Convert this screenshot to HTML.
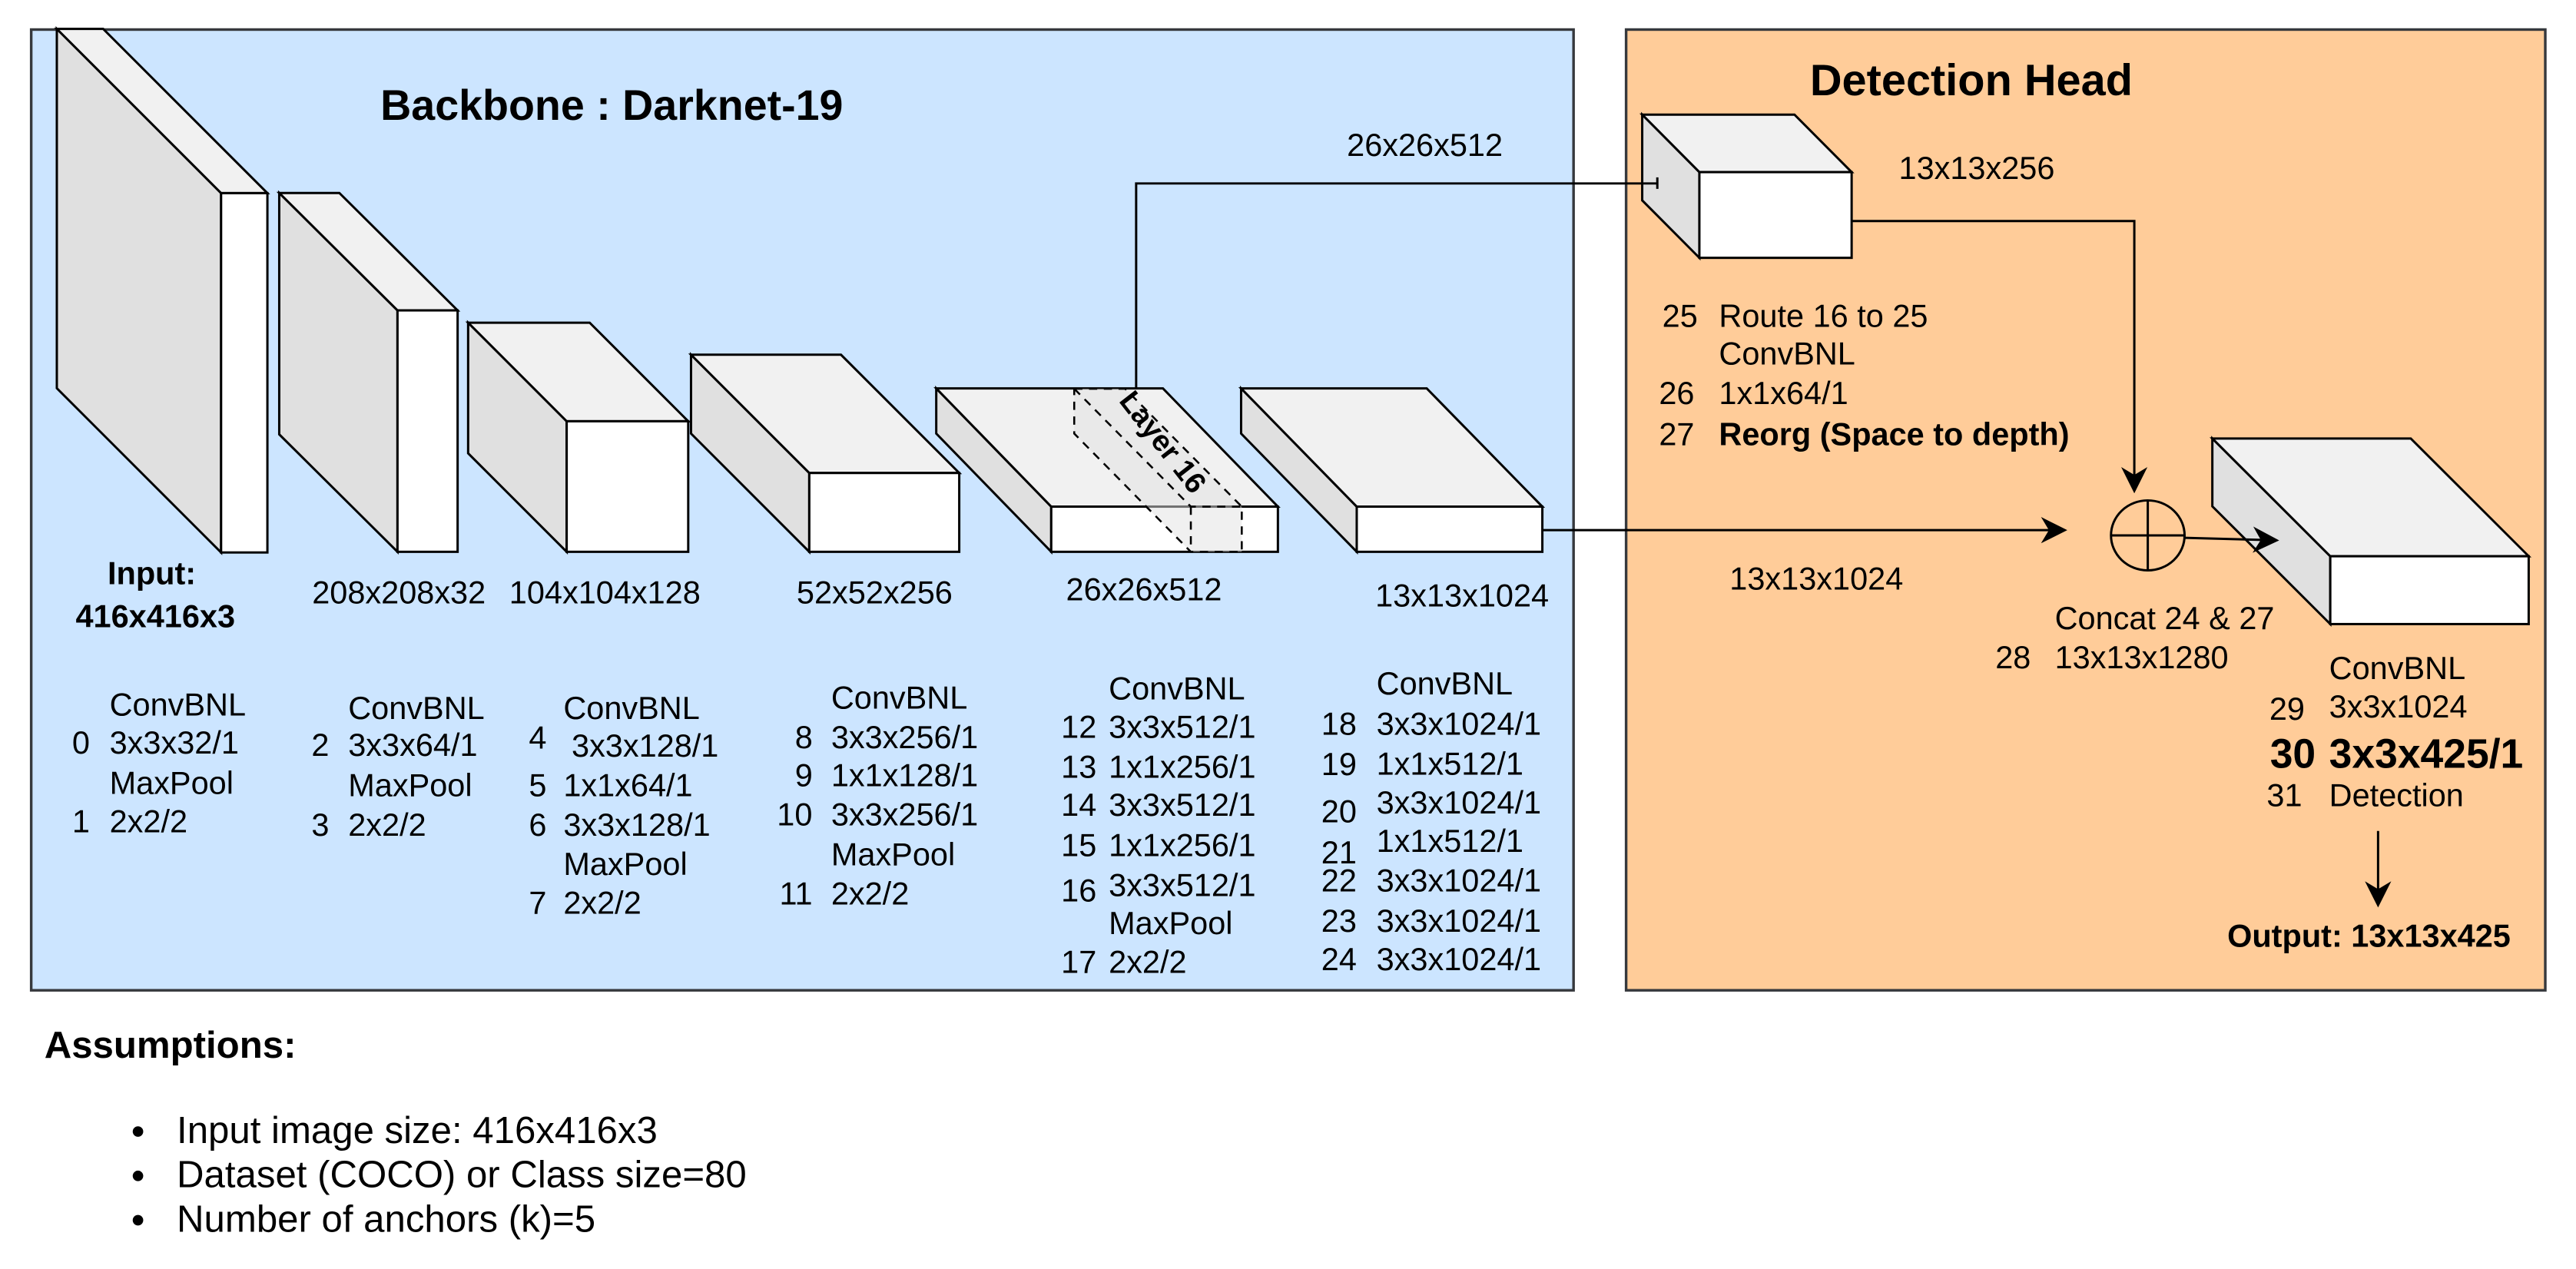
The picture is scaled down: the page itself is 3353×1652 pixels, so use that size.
<!DOCTYPE html>
<html><head><meta charset="utf-8"><style>
html,body{margin:0;padding:0;background:#fff;}
svg{display:block;}
text{font-family:"Liberation Sans",Arial,sans-serif;fill:#000;}
</style></head><body>
<svg width="3353" height="1652" viewBox="0 0 1568.3 772.7" preserveAspectRatio="none" xmlns="http://www.w3.org/2000/svg">
<defs>
<marker id="ah" viewBox="0 0 10 10" refX="9" refY="5" markerWidth="7" markerHeight="7" orient="auto" markerUnits="userSpaceOnUse">
<path d="M0,0 L10,5 L0,10 L3,5 z" fill="#000"/>
</marker>
<marker id="ah2" viewBox="0 0 10 10" refX="9" refY="5" markerWidth="16" markerHeight="16" orient="auto" markerUnits="userSpaceOnUse">
<path d="M0,0 L10,5 L0,10 L3,5 z" fill="#000"/>
</marker>
</defs>
<rect x="19" y="18" width="939" height="585" fill="#cce5ff" stroke="#36393d" stroke-width="1.6"/>
<rect x="990" y="18" width="559.6" height="585" fill="#ffcc99" stroke="#36393d" stroke-width="1.6"/>

<g stroke="#000" stroke-width="1.4" stroke-linejoin="miter">
<!-- cube1 -->
<polygon points="34.6,17.6 134.6,117.6 134.6,336.4 34.6,236.4" fill="#e0e0e0"/>
<polygon points="34.6,17.6 62.8,17.6 162.8,117.6 134.6,117.6" fill="#f1f1f1"/>
<rect x="134.6" y="117.6" width="28.2" height="218.8" fill="#fff"/>
<!-- cube2 -->
<polygon points="170,117.5 242,189 242,336 170,264.5" fill="#e0e0e0"/>
<polygon points="170,117.5 206.6,117.5 278.6,189 242,189" fill="#f1f1f1"/>
<rect x="242" y="189" width="36.6" height="147" fill="#fff"/>
<!-- cube3 -->
<polygon points="285,196.5 345,256.5 345,336 285,276" fill="#e0e0e0"/>
<polygon points="285,196.5 359,196.5 419,256.5 345,256.5" fill="#f1f1f1"/>
<rect x="345" y="256.5" width="74" height="79.5" fill="#fff"/>
<!-- cube4 -->
<polygon points="420.7,216 492.7,288 492.7,336 420.7,264" fill="#e0e0e0"/>
<polygon points="420.7,216 512,216 584,288 492.7,288" fill="#f1f1f1"/>
<rect x="492.7" y="288" width="91.3" height="48" fill="#fff"/>
<!-- cube5 -->
<polygon points="570,236.5 640,308.5 640,336 570,264" fill="#e0e0e0"/>
<polygon points="570,236.5 708,236.5 778,308.5 640,308.5" fill="#f1f1f1"/>
<rect x="640" y="308.5" width="138" height="27.5" fill="#fff"/>
<!-- cube6 -->
<polygon points="755.6,236.5 826,308.5 826,336 755.6,264" fill="#e0e0e0"/>
<polygon points="755.6,236.5 868.6,236.5 939,308.5 826,308.5" fill="#f1f1f1"/>
<rect x="826" y="308.5" width="113" height="27.5" fill="#fff"/>
<!-- small det cube -->
<polygon points="999.8,69.8 1034.6,104.8 1034.6,157 999.8,122" fill="#e0e0e0"/>
<polygon points="999.8,69.8 1092.5,69.8 1127.3,104.8 1034.6,104.8" fill="#f1f1f1"/>
<rect x="1034.6" y="104.8" width="92.7" height="52.2" fill="#fff"/>
<!-- big det cube -->
<polygon points="1346.9,267 1418.7,338.7 1418.7,380 1346.9,308.3" fill="#e0e0e0"/>
<polygon points="1346.9,267 1467.7,267 1539.5,338.7 1418.7,338.7" fill="#f1f1f1"/>
<rect x="1418.7" y="338.7" width="120.8" height="41.3" fill="#fff"/>
</g>

<!-- layer 16 dashed -->
<g stroke="#000" stroke-width="1.2" stroke-dasharray="5,4" fill="none">
<polygon points="654,236.7 685,236.7 756,308.5 756,336 725,336 654,264" fill="rgba(225,225,225,0.5)"/>
<polyline points="654,236.7 725,308.5 756,308.5"/>
<line x1="725" y1="308.5" x2="725" y2="336"/>
</g>
<text x="0" y="0" font-size="18" font-weight="bold" transform="translate(707,270) rotate(52)" text-anchor="middle" dominant-baseline="middle">Layer 16</text>

<!-- connectors -->
<g stroke="#000" stroke-width="1.4" fill="none">
<polyline points="691.7,236.7 691.7,111.7 1009,111.7"/>
<line x1="1009" y1="108" x2="1009" y2="115"/>
<polyline points="1127.3,134.6 1299.4,134.6 1299.4,298.8" marker-end="url(#ah2)"/>
<line x1="939" y1="322.8" x2="1257" y2="322.8" marker-end="url(#ah2)"/>
<ellipse cx="1307.6" cy="326" rx="22.4" ry="21.3" fill="none"/>
<line x1="1285.2" y1="326" x2="1330" y2="326"/>
<line x1="1307.6" y1="304.7" x2="1307.6" y2="347.3"/>
<line x1="1330" y1="327.5" x2="1386" y2="329" marker-end="url(#ah2)"/>
<line x1="1447.8" y1="506" x2="1447.8" y2="551" marker-end="url(#ah2)"/>
</g>

<!-- titles -->
<text x="231.6" y="73" font-size="26" font-weight="bold">Backbone : Darknet-19</text>
<text x="1101.9" y="58" font-size="27" font-weight="bold">Detection Head</text>

<g font-size="19.4">
<text x="820" y="95">26x26x512</text>
<text x="1156" y="109">13x13x256</text>
<text x="1053" y="359">13x13x1024</text>

<text x="190" y="367.4">208x208x32</text>
<text x="310" y="367.4">104x104x128</text>
<text x="485" y="367.4">52x52x256</text>
<text x="649" y="365.6">26x26x512</text>
<text x="837.3" y="369.2">13x13x1024</text>

<!-- col 0 -->
<text x="66.7" y="435.8">ConvBNL</text>
<text x="43.9" y="458.8">0</text><text x="66.7" y="458.8">3x3x32/1</text>
<text x="66.7" y="483.4">MaxPool</text>
<text x="43.9" y="506.7">1</text><text x="66.7" y="506.7">2x2/2</text>
<!-- col 2 -->
<text x="212" y="437.8">ConvBNL</text>
<text x="189.6" y="460.3">2</text><text x="212" y="460.3">3x3x64/1</text>
<text x="212" y="484.8">MaxPool</text>
<text x="189.6" y="508.8">3</text><text x="212" y="508.8">2x2/2</text>
<!-- col 4 -->
<text x="343" y="437.8">ConvBNL</text>
<text x="322" y="455.8">4</text><text x="348" y="460.8">3x3x128/1</text>
<text x="322" y="484.8">5</text><text x="343" y="484.8">1x1x64/1</text>
<text x="322" y="508.8">6</text><text x="343" y="508.8">3x3x128/1</text>
<text x="343" y="532.8">MaxPool</text>
<text x="322" y="556.3">7</text><text x="343" y="556.3">2x2/2</text>
<!-- col 8 -->
<text x="506" y="431.4">ConvBNL</text>
<text x="484" y="455.6">8</text><text x="506" y="455.6">3x3x256/1</text>
<text x="484" y="478.8">9</text><text x="506" y="478.8">1x1x128/1</text>
<text x="473" y="502.6">10</text><text x="506" y="502.6">3x3x256/1</text>
<text x="506" y="526.8">MaxPool</text>
<text x="474.5" y="550.8">11</text><text x="506" y="550.8">2x2/2</text>
<!-- col 12 -->
<text x="675" y="425.8">ConvBNL</text>
<text x="646" y="449.3">12</text><text x="675" y="449.3">3x3x512/1</text>
<text x="646" y="473.5">13</text><text x="675" y="473.5">1x1x256/1</text>
<text x="646" y="496.8">14</text><text x="675" y="496.8">3x3x512/1</text>
<text x="646" y="521.4">15</text><text x="675" y="521.4">1x1x256/1</text>
<text x="646" y="549">16</text><text x="675" y="545.7">3x3x512/1</text>
<text x="675" y="568.8">MaxPool</text>
<text x="646" y="592.4">17</text><text x="675" y="592.4">2x2/2</text>
<!-- col 18 -->
<text x="838" y="422.8">ConvBNL</text>
<text x="804.4" y="447.5">18</text><text x="838" y="447.5">3x3x1024/1</text>
<text x="804.4" y="472">19</text><text x="838" y="471.8">1x1x512/1</text>
<text x="804.4" y="500.8">20</text><text x="838" y="495.3">3x3x1024/1</text>
<text x="804.4" y="525.8">21</text><text x="838" y="518.7">1x1x512/1</text>
<text x="804.4" y="542.8">22</text><text x="838" y="542.8">3x3x1024/1</text>
<text x="804.4" y="567.4">23</text><text x="838" y="567.4">3x3x1024/1</text>
<text x="804.4" y="590.8">24</text><text x="838" y="590.8">3x3x1024/1</text>

<!-- det head text -->
<text x="1012" y="199">25</text><text x="1046.5" y="199">Route 16 to 25</text>
<text x="1046.5" y="222">ConvBNL</text>
<text x="1010" y="246">26</text><text x="1046.5" y="246">1x1x64/1</text>
<text x="1010" y="271">27</text><text x="1046.5" y="271" font-weight="bold">Reorg (Space to depth)</text>
<text x="1251" y="383">Concat 24 &amp; 27</text>
<text x="1214.8" y="407">28</text><text x="1251" y="407">13x13x1280</text>
<text x="1418" y="413.4">ConvBNL</text>
<text x="1381.6" y="438.3">29</text><text x="1418" y="436.8">3x3x1024</text>
<text x="1380" y="491">31</text><text x="1418" y="490.8">Detection</text>
<text x="1356" y="576.4" font-weight="bold">Output: 13x13x425</text>
</g>
<text x="1382" y="467.4" font-size="25" font-weight="bold">30</text>
<text x="1418" y="467.4" font-size="25" font-weight="bold">3x3x425/1</text>

<text x="92.4" y="355.8" font-size="19.4" font-weight="bold" text-anchor="middle">Input:</text>
<text x="94.6" y="381.8" font-size="19.4" font-weight="bold" text-anchor="middle">416x416x3</text>

<!-- assumptions -->
<text x="27" y="644" font-size="23" font-weight="bold">Assumptions:</text>
<g font-size="23">
<circle cx="84" cy="689" r="3.2" fill="#000"/>
<text x="107.6" y="696">Input image size: 416x416x3</text>
<circle cx="84" cy="716" r="3.2" fill="#000"/>
<text x="107.6" y="723">Dataset (COCO) or Class size=80</text>
<circle cx="84" cy="743" r="3.2" fill="#000"/>
<text x="107.6" y="750">Number of anchors (k)=5</text>
</g>
</svg>
</body></html>
